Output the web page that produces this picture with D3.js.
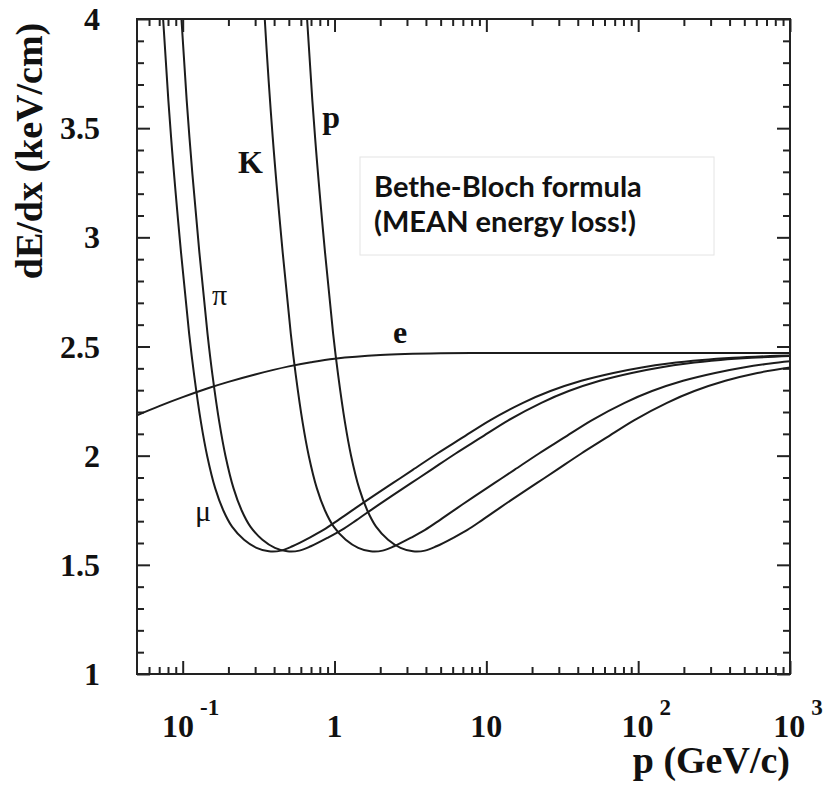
<!DOCTYPE html>
<html>
<head>
<meta charset="utf-8">
<script src="https://cdn.jsdelivr.net/npm/d3@7"></script>
<style>
  html, body { margin: 0; padding: 0; background: #fff; }
  svg { display: block; }
  .serif { font-family: "Liberation Serif", "Times New Roman", serif; }
</style>
</head>
<body>
<svg id="chart" width="824" height="786"></svg>
<script>
// Mean energy loss dE/dx (keV/cm) versus momentum p (GeV/c) for e, mu, pi, K, p.
// Each curve is a list of [p, dE/dx] points.
const curveMu = [
  [0.0655, 4.75], [0.0743, 4.00], [0.0838, 3.46], [0.0975, 2.93], [0.1102, 2.56],
  [0.1189, 2.37], [0.1321, 2.15], [0.1448, 2.00], [0.1638, 1.85], [0.1849, 1.75],
  [0.2113, 1.675], [0.2536, 1.615], [0.3064, 1.578], [0.3698, 1.562], [0.4438, 1.565],
  [0.5283, 1.585], [0.6868, 1.625], [0.8453, 1.66], [1.057, 1.705], [1.374, 1.76],
  [1.796, 1.815], [2.430, 1.875], [3.275, 1.935], [4.755, 2.01], [6.868, 2.08],
  [10.57, 2.162], [17.43, 2.242], [26.42, 2.296], [42.26, 2.343], [68.68, 2.379],
  [105.7, 2.404], [158.5, 2.422], [264.2, 2.438], [422.6, 2.448], [739.6, 2.456], [1000, 2.459]
];
const curvePi = [
  [0.0865, 4.75], [0.0981, 4.00], [0.1107, 3.46], [0.1288, 2.93], [0.1456, 2.56],
  [0.1570, 2.37], [0.1745, 2.15], [0.1912, 2.00], [0.2163, 1.85], [0.2442, 1.75],
  [0.2791, 1.675], [0.3350, 1.615], [0.4048, 1.578], [0.4885, 1.562], [0.5862, 1.565],
  [0.6979, 1.585], [0.9072, 1.625], [1.117, 1.66], [1.396, 1.705], [1.814, 1.76],
  [2.373, 1.815], [3.210, 1.875], [4.327, 1.935], [6.281, 2.01], [9.072, 2.08],
  [13.96, 2.162], [23.03, 2.242], [34.89, 2.296], [55.83, 2.343], [90.72, 2.379],
  [139.6, 2.404], [209.4, 2.422], [348.9, 2.438], [558.3, 2.448], [1000, 2.456]
];
const curveK = [
  [0.3061, 4.75], [0.3471, 4.00], [0.3915, 3.46], [0.4557, 2.93], [0.5149, 2.56],
  [0.5554, 2.37], [0.6171, 2.15], [0.6763, 2.00], [0.7652, 1.85], [0.8639, 1.75],
  [0.9874, 1.675], [1.185, 1.615], [1.432, 1.578], [1.728, 1.562], [2.073, 1.565],
  [2.468, 1.585], [3.209, 1.625], [3.949, 1.66], [4.937, 1.705], [6.418, 1.76],
  [8.393, 1.815], [11.35, 1.875], [15.30, 1.935], [22.22, 2.01], [32.09, 2.08],
  [49.37, 2.162], [81.46, 2.242], [123.4, 2.296], [197.5, 2.343], [320.9, 2.379],
  [493.7, 2.404], [740.5, 2.422], [1000, 2.432]
];
const curveP = [
  [0.5817, 4.75], [0.6596, 4.00], [0.7441, 3.46], [0.8660, 2.93], [0.9786, 2.56],
  [1.056, 2.37], [1.173, 2.15], [1.285, 2.00], [1.454, 1.85], [1.642, 1.75],
  [1.877, 1.675], [2.252, 1.615], [2.721, 1.578], [3.284, 1.562], [3.941, 1.565],
  [4.691, 1.585], [6.099, 1.625], [7.506, 1.66], [9.383, 1.705], [12.20, 1.76],
  [15.95, 1.815], [21.58, 1.875], [29.09, 1.935], [42.22, 2.01], [60.99, 2.08],
  [93.83, 2.162], [154.8, 2.242], [234.6, 2.296], [375.3, 2.343], [609.9, 2.379], [1000, 2.404]
];
const curveE = [
  [0.05, 2.185], [0.07, 2.227], [0.1, 2.268], [0.15, 2.311], [0.2, 2.338],
  [0.3, 2.372], [0.5, 2.409], [0.7, 2.428], [1, 2.444], [2, 2.461],
  [5, 2.469], [10, 2.47], [100, 2.47], [1000, 2.47]
];

// Particle names written next to their curves, anchored at [p, dE/dx]
const particleNames = ["p", "K", "\u03c0", "e", "\u03bc"];
const particleNameAt = [[0.83, 3.50], [0.231, 3.295], [0.156, 2.69], [2.43, 2.516], [0.1205, 1.70]];
const particleNameBold = [true, true, false, true, false];

// Axis ticks and their labels
const xTickValues = [0.1, 1, 10, 100, 1000];
const xTickBase = ["10", "1", "10", "10", "10"];
const xTickExp = ["-1", "", "", "2", "3"];
const yTickValues = [1, 1.5, 2, 2.5, 3, 3.5, 4];
const yTickLabels = ["1", "1.5", "2", "2.5", "3", "3.5", "4"];

const noteLines = ["Bethe-Bloch formula", "(MEAN energy loss!)"];

const plot = { left: 137, right: 790, top: 19, bottom: 674 };

const svg = d3.select("#chart");
const x = d3.scaleLog().domain([0.05, 1000]).range([plot.left, plot.right]);
const y = d3.scaleLinear().domain([1, 4]).range([plot.bottom, plot.top]);

// Minor tick positions: 2..9 times each decade inside the domain
const xMinor = [];
for (let e = -2; e <= 2; e++) {
  for (let d = 2; d <= 9; d++) {
    const v = d * Math.pow(10, e);
    if (v > 0.05 && v < 1000) xMinor.push(+v.toPrecision(3));
  }
}
const yMinor = d3.range(10, 41).map(v => v / 10).filter(v => yTickValues.indexOf(v) < 0);

function tickAxis(axisFn, scale, values, size, translate) {
  const g = svg.append("g")
    .attr("transform", translate)
    .call(axisFn(scale).tickValues(values).tickSize(size).tickFormat(""));
  g.select(".domain").remove();
  g.selectAll(".tick line").attr("stroke", "#222").attr("stroke-width", 2);
  return g;
}

const MAJOR = 13, MINOR = 7;
// bottom and top
tickAxis(d3.axisBottom, x, xTickValues, -MAJOR, `translate(0,${plot.bottom})`);
tickAxis(d3.axisBottom, x, xMinor, -MINOR, `translate(0,${plot.bottom})`);
tickAxis(d3.axisTop, x, xTickValues, -MAJOR, `translate(0,${plot.top})`);
tickAxis(d3.axisTop, x, xMinor, -MINOR, `translate(0,${plot.top})`);
// left and right
tickAxis(d3.axisLeft, y, yTickValues, -MAJOR, `translate(${plot.left},0)`);
tickAxis(d3.axisLeft, y, yMinor, -MINOR, `translate(${plot.left},0)`);
tickAxis(d3.axisRight, y, yTickValues, -MAJOR, `translate(${plot.right},0)`);
tickAxis(d3.axisRight, y, yMinor, -MINOR, `translate(${plot.right},0)`);

// Annotation box
const noteBox = { x0: 360, y0: 157, x1: 714, y1: 255 };
svg.append("rect")
  .attr("x", noteBox.x0).attr("y", noteBox.y0)
  .attr("width", noteBox.x1 - noteBox.x0).attr("height", noteBox.y1 - noteBox.y0)
  .attr("fill", "#fff").attr("stroke", "#e4e4e4").attr("stroke-width", 1);
svg.append("g").selectAll("text").data(noteLines).join("text")
  .attr("x", 374)
  .attr("y", (d, i) => 197 + i * 35)
  .attr("font-family", "Lato, 'Open Sans', sans-serif")
  .attr("font-weight", 700)
  .attr("font-size", 29)
  .attr("fill", "#111")
  .text(d => d);

// Curves
svg.append("defs").append("clipPath").attr("id", "plotClip")
  .append("rect")
  .attr("x", plot.left).attr("y", plot.top)
  .attr("width", plot.right - plot.left).attr("height", plot.bottom - plot.top);

const line = d3.line()
  .x(d => x(d[0]))
  .y(d => y(d[1]))
  .curve(d3.curveCatmullRom.alpha(0.5));

svg.append("g").attr("clip-path", "url(#plotClip)")
  .selectAll("path")
  .data([curveE, curveMu, curvePi, curveK, curveP])
  .join("path")
  .attr("d", line)
  .attr("fill", "none")
  .attr("stroke", "#1c1c1c")
  .attr("stroke-width", 2);

// Frame
svg.append("rect")
  .attr("x", plot.left).attr("y", plot.top)
  .attr("width", plot.right - plot.left).attr("height", plot.bottom - plot.top)
  .attr("fill", "none").attr("stroke", "#222").attr("stroke-width", 2);

// Particle names
svg.append("g").selectAll("text").data(particleNames).join("text")
  .attr("class", "serif")
  .attr("x", (d, i) => x(particleNameAt[i][0]))
  .attr("y", (d, i) => y(particleNameAt[i][1]))
  .attr("font-size", (d, i) => particleNameBold[i] ? 32 : 30)
  .attr("font-weight", (d, i) => particleNameBold[i] ? 700 : 400)
  .attr("fill", "#111")
  .text(d => d);

// Y tick labels
svg.append("g").selectAll("text").data(yTickValues).join("text")
  .attr("class", "serif")
  .attr("x", 100)
  .attr("y", d => y(d) + 11)
  .attr("text-anchor", "end")
  .attr("font-size", 32)
  .attr("font-weight", 700)
  .attr("fill", "#111")
  .text((d, i) => yTickLabels[i]);

// X tick labels, powers of ten written with a raised exponent
const xl = svg.append("g").selectAll("text").data(xTickValues).join("text")
  .attr("class", "serif")
  .attr("x", (d, i) => x(d) + (xTickExp[i] ? 8 : 0))
  .attr("y", 737)
  .attr("text-anchor", "middle")
  .attr("font-size", 32)
  .attr("font-weight", 700)
  .attr("fill", "#111");
xl.append("tspan").text((d, i) => xTickBase[i]);
xl.append("tspan")
  .attr("dx", 6).attr("dy", -22)
  .attr("font-size", 23)
  .text((d, i) => xTickExp[i]);

// Axis titles
svg.append("text").attr("class", "serif")
  .attr("x", plot.right).attr("y", 773)
  .attr("text-anchor", "end")
  .attr("font-size", 38).attr("font-weight", 700).attr("fill", "#111")
  .text("p (GeV/c)");
svg.append("text").attr("class", "serif")
  .attr("transform", "translate(42,151) rotate(-90)")
  .attr("text-anchor", "middle")
  .attr("font-size", 38).attr("font-weight", 700).attr("fill", "#111")
  .text("dE/dx (keV/cm)");
</script>
</body>
</html>
